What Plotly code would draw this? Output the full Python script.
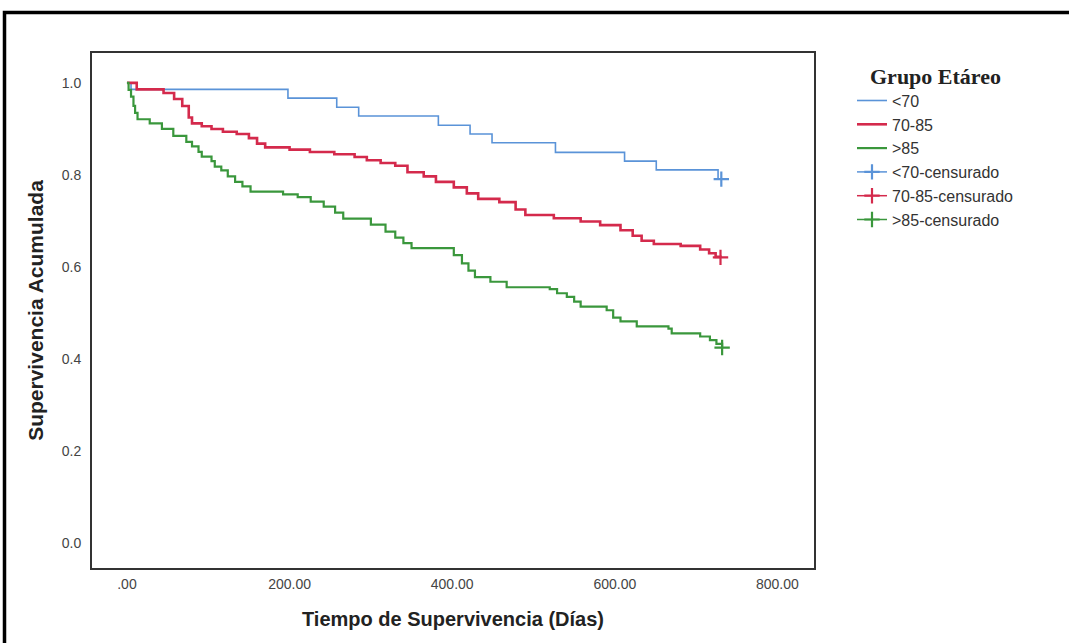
import plotly.graph_objects as go

# ---- data ----
t_lt70 = [0, 5, 198, 258, 285, 383, 422, 449, 527, 612, 651, 727, 731]
s_lt70 = [1.0, 0.986, 0.967, 0.947, 0.928, 0.908, 0.889, 0.870, 0.849, 0.830, 0.811, 0.791, 0.791]

t_70_85 = [0, 12, 45, 58, 68, 76, 80, 92, 104, 118, 135, 150, 160, 170, 200, 225, 255, 280, 295,
           312, 330, 345, 365, 380, 402, 418, 432, 458, 478, 490, 525, 558, 582, 607, 622, 633,
           648, 681, 705, 716, 724, 730]
s_70_85 = [1.0, 0.986, 0.978, 0.965, 0.950, 0.925, 0.912, 0.906, 0.900, 0.894, 0.889, 0.880, 0.868,
           0.860, 0.855, 0.850, 0.845, 0.839, 0.832, 0.826, 0.820, 0.806, 0.797, 0.785, 0.773, 0.760,
           0.748, 0.741, 0.725, 0.713, 0.706, 0.699, 0.691, 0.680, 0.668, 0.657, 0.650, 0.646, 0.638,
           0.630, 0.622, 0.620]

t_gt85 = [0, 2, 5, 8, 10, 13, 28, 43, 57, 73, 80, 88, 92, 104, 108, 116, 124, 133, 142, 152, 192,
          210, 226, 242, 256, 266, 300, 318, 330, 340, 350, 402, 412, 420, 428, 447, 467, 520, 529,
          541, 550, 558, 590, 598, 607, 627, 666, 670, 705, 717, 725, 732]
s_gt85 = [1.0, 0.985, 0.970, 0.950, 0.935, 0.921, 0.912, 0.900, 0.885, 0.872, 0.862, 0.850, 0.840,
          0.830, 0.818, 0.810, 0.797, 0.785, 0.775, 0.764, 0.758, 0.752, 0.742, 0.731, 0.718, 0.705,
          0.692, 0.677, 0.664, 0.652, 0.641, 0.626, 0.608, 0.592, 0.578, 0.568, 0.556, 0.552, 0.543,
          0.535, 0.525, 0.514, 0.506, 0.490, 0.482, 0.471, 0.466, 0.456, 0.449, 0.441, 0.433, 0.423]

cens_t = [731, 730, 732]
cens_s = [0.791, 0.621, 0.425]

group_names = ["&lt;70", "70-85", "&gt;85"]
cens_names = ["&lt;70-censurado", "70-85-censurado", "&gt;85-censurado"]
x_tickvals = [0, 200, 400, 600, 800]
x_ticktext = [".00", "200.00", "400.00", "600.00", "800.00"]
y_tickvals = [0.0, 0.2, 0.4, 0.6, 0.8, 1.0]

colors = ["#5a93d8", "#d42a4c", "#3a973c"]
widths = [1.6, 2.6, 2.2]

fig = go.Figure()
series = [(t_lt70, s_lt70), (t_70_85, s_70_85), (t_gt85, s_gt85)]
for (t, s), name, c, w in zip(series, group_names, colors, widths):
    fig.add_trace(go.Scatter(x=t, y=s, mode="lines", line=dict(shape="hv", color=c, width=w),
                             name=name))
for i in range(3):
    fig.add_trace(go.Scatter(x=[cens_t[i]], y=[cens_s[i]], mode="lines+markers",
                             line=dict(color=colors[i], width=1.5),
                             marker=dict(symbol="cross-thin", size=11,
                                         line=dict(color=colors[i], width=2.2)),
                             name=cens_names[i]))

# plot area in pixels: left 92, right 814, top 53, bottom 568
L, R, T, B = 92, 814, 53, 568
W, H = 1069, 643
pw, ph = R - L, B - T

def px(x):
    return (x - L) / pw

def py(y):
    return (B - y) / ph

fig.add_shape(type="rect", xref="paper", yref="paper",
              x0=px(4.5), x1=px(1085), y0=py(12.5), y1=py(665),
              line=dict(color="black", width=3.5), fillcolor="rgba(0,0,0,0)", layer="above")

fig.update_layout(
    width=W, height=H,
    margin=dict(l=L, r=W - R, t=T, b=H - B),
    paper_bgcolor="white", plot_bgcolor="white",
    font=dict(family="Liberation Sans, Arial, sans-serif", color="#222"),
    showlegend=True,
    legend=dict(x=px(852), y=py(55), xanchor="left", yanchor="top",
                title=dict(text="<b>Grupo Etáreo</b>", side="top center",
                           font=dict(family="Liberation Serif, Times New Roman, serif", size=22, color="#222")),
                font=dict(size=16, color="#333"), tracegroupgap=0, itemwidth=30,
                bgcolor="rgba(0,0,0,0)"),
    xaxis=dict(range=[-43, 845], tickvals=x_tickvals, ticktext=x_ticktext,
               showgrid=False, zeroline=False, showline=True, linecolor="#333", linewidth=2,
               mirror=True, ticks="outside", ticklen=2, tickcolor="rgba(0,0,0,0)",
               tickfont=dict(size=14, color="#444"),
               title=dict(text="<b>Tiempo de Supervivencia (Días)</b>",
                          font=dict(size=20, color="#222"), standoff=21)),
    yaxis=dict(range=[-0.054, 1.065], tickvals=y_tickvals, tickformat=".1f",
               showgrid=False, zeroline=False, showline=True, linecolor="#333", linewidth=2,
               mirror=True, ticks="outside", ticklen=6, tickcolor="rgba(0,0,0,0)",
               tickfont=dict(size=14, color="#444"),
               title=dict(text="<b>Supervivencia Acumulada</b>",
                          font=dict(size=21, color="#222"), standoff=12)),
)

fig.write_html("out.html", config={"displayModeBar": False},
               post_script="document.body.style.margin='0px';")
